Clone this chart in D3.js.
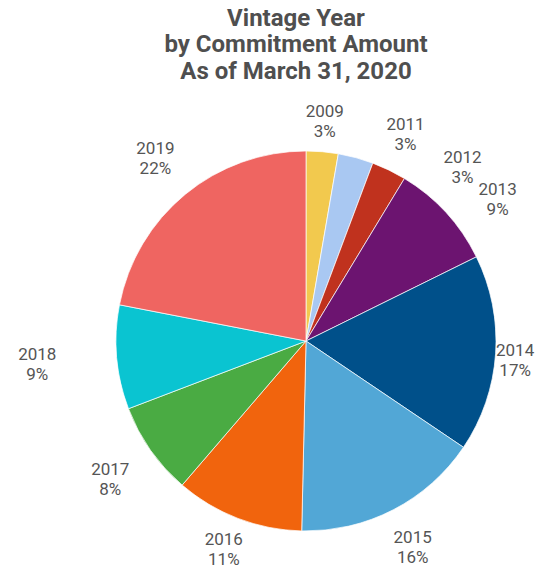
<!DOCTYPE html>
<html>
<head>
<meta charset="utf-8">
<script src="https://cdn.jsdelivr.net/npm/d3@7"></script>
<style>
  html, body { margin: 0; padding: 0; background: #fff; }
  svg { display: block; font-family: Roboto, "Noto Sans", sans-serif; }
</style>
</head>
<body>
<svg id="chart" width="552" height="568"></svg>
<script>
// Commitment share by vintage year (percent of total)
const years  = ["2009", "2011", "2012", "2013", "2014", "2015", "2016", "2017", "2018", "2019"];
const shares = [2.72, 3.0, 2.95, 9.03, 16.75, 15.91, 10.94, 7.9, 8.85, 21.95];
const sliceColors = ["#f2c94e", "#a9c8f2", "#c0321e", "#6c1470", "#00508a",
                     "#52a7d6", "#f1640d", "#4aab43", "#0ac4d1", "#ef6561"];
const titleLines = ["Vintage Year", "by Commitment Amount", "As of March 31, 2020"];

const W = 552, H = 568;
const cx = 306, cy = 341, radius = 190;
const svg = d3.select("#chart");

// Title
svg.append("text")
  .attr("text-anchor", "middle")
  .attr("font-size", 24)
  .attr("font-weight", 700)
  .attr("fill", "#4f4f4f")
  .selectAll("tspan")
  .data(titleLines)
  .join("tspan")
  .attr("x", 296)
  .attr("y", (d, i) => 25.5 + i * 26.5)
  .text(d => d);

const data = years.map((y, i) => ({ year: y, value: shares[i], color: sliceColors[i] }));
const total = d3.sum(shares);

const pie = d3.pie().value(d => d.value).sort(null);
const arcs = pie(data);
const arc = d3.arc().innerRadius(0).outerRadius(radius);

const g = svg.append("g").attr("transform", `translate(${cx},${cy})`);
g.selectAll("path")
  .data(arcs)
  .join("path")
  .attr("d", arc)
  .attr("fill", d => d.data.color)
  .attr("stroke", "#ffffff")
  .attr("stroke-width", 0.7);

// Outside labels: two lines (year, percent)
const labelG = svg.append("g")
  .attr("font-size", 17)
  .attr("fill", "#555555")
  .attr("text-anchor", "middle");

// box spans from the cap top of line 1 to the baseline of line 2
const BOX_H = 32;
const labels = arcs.map(a => {
  const t = labelG.append("text");
  t.append("tspan").attr("class", "l1").text(a.data.year);
  t.append("tspan").attr("class", "l2").text(Math.round(a.data.value / total * 100) + "%");
  const w = t.node().getBBox().width;
  return { a, t, w, h: BOX_H, theta: (a.startAngle + a.endAngle) / 2 };
});

function place(L) {
  const s = Math.sin(L.theta), c = -Math.cos(L.theta);
  // labels pointing sideways sit further out than those above/below
  const gap = 12 + 38 * Math.pow(Math.abs(s), 12);
  const dist = radius + gap + (L.w / 2) * Math.abs(s) + (L.h / 2) * Math.abs(c);
  L.x = cx + dist * s;
  L.y = cy + dist * c;
  L.x = Math.max(L.w / 2 + 2, Math.min(W - L.w / 2 - 2, L.x));
  L.y = Math.min(H - 3 - L.h / 2, L.y);
}

function overlaps(A, B, padX) {
  return Math.abs(A.x - B.x) < (A.w + B.w) / 2 + padX &&
         Math.abs(A.y - B.y) < (A.h + B.h) / 2;
}

labels.forEach(place);
// Push crowded labels clockwise until they clear their predecessor
for (let i = 1; i < labels.length; i++) {
  let guard = 0;
  while (overlaps(labels[i], labels[i - 1], 20) && guard++ < 200) {
    labels[i].theta += Math.PI / 360;
    place(labels[i]);
  }
}

labels.forEach(L => {
  L.t.select(".l1").attr("x", L.x).attr("y", L.y - 4);
  L.t.select(".l2").attr("x", L.x).attr("y", L.y + 16);
});
</script>
</body>
</html>
